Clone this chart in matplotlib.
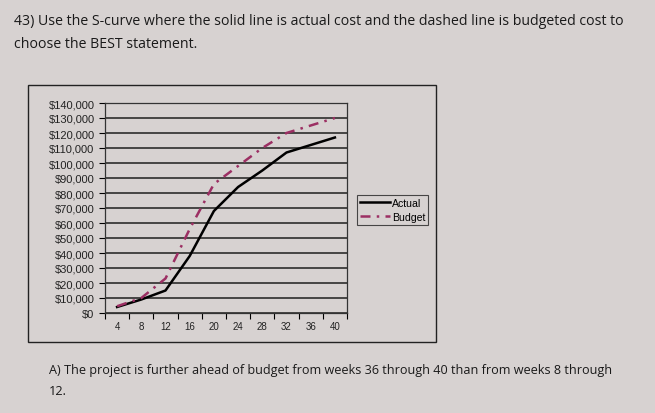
import numpy as np
import matplotlib.pyplot as plt
from matplotlib.patches import Rectangle
from matplotlib.ticker import FuncFormatter

# values (week, cumulative cost in $)
weeks = [4, 8, 12, 16, 20, 24, 28, 32, 36, 40]
actual = [4000, 9000, 15000, 38000, 68000, 84000, 95000, 107000, 112000, 117000]
budget = [4500, 10000, 23000, 56000, 86000, 98000, 110000, 120000, 125000, 130000]

question = ("43) Use the S-curve where the solid line is actual cost and the dashed line is budgeted cost to\n"
            "choose the BEST statement.")
answer = ("A) The project is further ahead of budget from weeks 36 through 40 than from weeks 8 through\n"
          "12.")

paper = '#d7d2d1'
budget_color = '#9c2f63'

fig = plt.figure(figsize=(6.55, 4.14), dpi=100, facecolor=paper)

# text of the question sheet
fig.text(14 / 655, 1 - 14 / 414, question, fontsize=10.2, family='Open Sans',
         va='top', ha='left', color='#1a1a1a', linespacing=1.7)
fig.text(49 / 655, 1 - 364 / 414, answer, fontsize=9.1, family='Open Sans',
         va='top', ha='left', color='#1a1a1a', linespacing=1.85)

# outer chart border
fig.patches.append(Rectangle((28 / 655, 1 - 343 / 414), (436 - 28) / 655, (343 - 86) / 414,
                             transform=fig.transFigure, fill=False, ec='#222222', lw=1.0))

ax = fig.add_axes([105 / 655, 1 - 314 / 414, 242 / 655, 210 / 414])
ax.set_facecolor(paper)

x = np.arange(len(weeks)) + 1
ax.plot(x, actual, color='black', lw=1.8, label='Actual', zorder=3)
ax.plot(x, budget, color=budget_color, lw=1.8, linestyle=(0, (4, 2.5, 1, 2.5)),
        label='Budget', zorder=3)

ax.set_xlim(0.5, 10.5)
ax.set_ylim(0, 140000)
ax.set_yticks(np.arange(0, 140001, 10000))
ax.yaxis.set_major_formatter(FuncFormatter(lambda v, p: f'${v:,.0f}'))
ax.set_xticks(x)
ax.set_xticklabels([str(w) for w in weeks])
ax.set_xticks(np.arange(0.5, 10.6, 1), minor=True)
ax.tick_params(axis='x', which='major', length=0, labelsize=7, pad=6, labelcolor='#222222')
ax.tick_params(axis='x', which='minor', length=4, width=0.8, direction='out')
ax.tick_params(axis='y', length=4, width=0.8, labelsize=8, labelcolor='#222222')
for lab in ax.get_xticklabels() + ax.get_yticklabels():
    lab.set_family('Liberation Sans')

ax.grid(axis='y', color='#1e1e1e', lw=1.1)
for s in ['top', 'bottom', 'left', 'right']:
    ax.spines[s].set_color('#333333')
    ax.spines[s].set_linewidth(0.9)

leg = fig.legend(loc='upper left', bbox_to_anchor=(357 / 655, 1 - 196 / 414),
                 borderaxespad=0, frameon=True, fancybox=False, handlelength=2.8,
                 borderpad=0.3, labelspacing=0.35, handletextpad=0.2,
                 prop={'family': 'Liberation Sans', 'size': 7.6})
leg.get_frame().set_edgecolor('#222222')
leg.get_frame().set_facecolor(paper)
leg.get_frame().set_linewidth(0.8)

plt.savefig('out.png', dpi=100, facecolor=paper)
